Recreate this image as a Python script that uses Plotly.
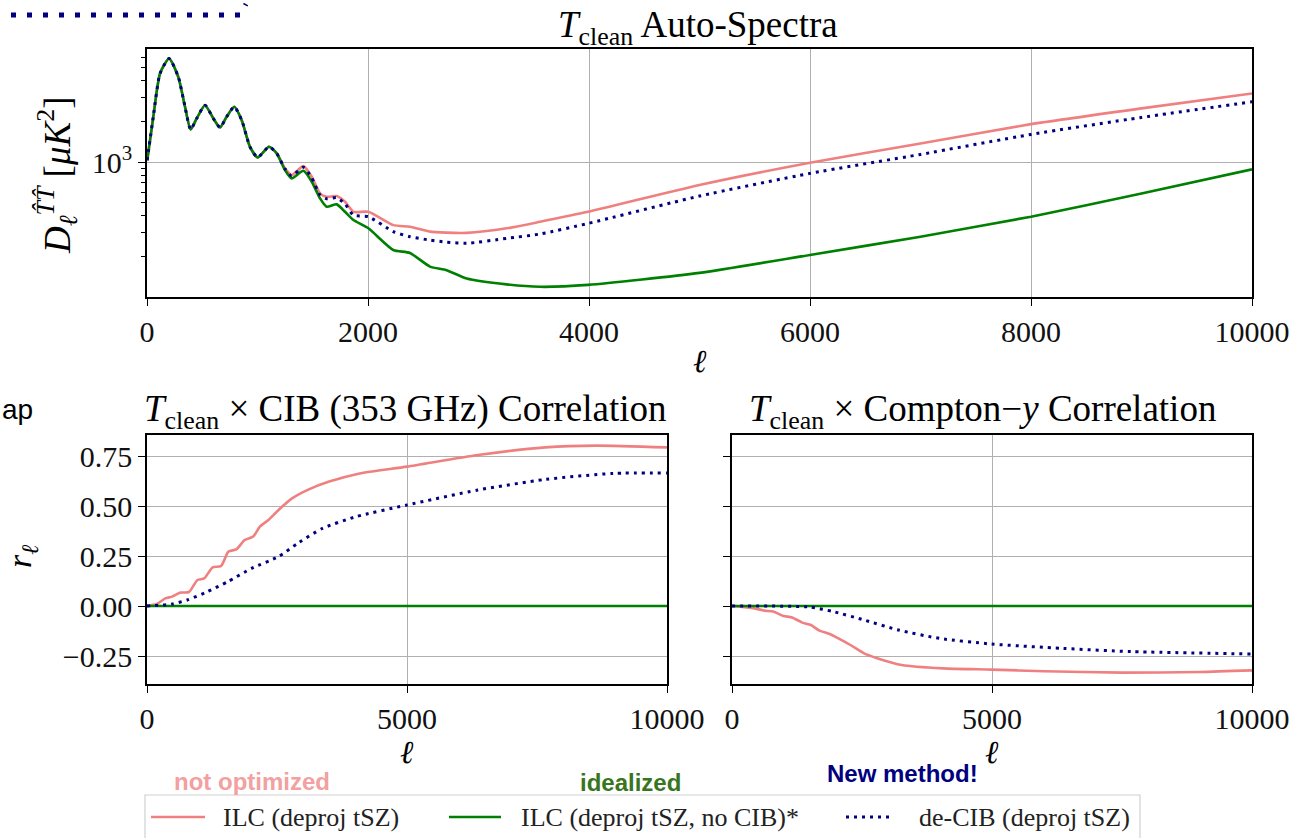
import plotly.graph_objects as go

W, H = 1293, 838

# ---- T_clean auto-spectra (top panel) ----
ell_top = [2, 57, 118, 200, 283, 344, 395, 450, 525, 600,
           661, 721, 790, 857, 932, 1001, 1104, 1174, 1249, 1309,
           1415, 1491, 1566, 1626, 1717, 1792, 1868, 2003, 2229, 2380,
           2561, 2712, 2893, 3255, 3557, 3991, 5000, 6000, 7000, 8000,
           9000, 10000]
dl_ilc = [1030, 2170, 4540, 5860, 4285, 2570, 1746, 2107, 2640, 2107,
          1807, 2168, 2570, 2046, 1298, 1083, 1298, 1160, 898, 801,
          934, 778, 586, 553, 560, 508, 428, 428, 341, 332,
          305, 300, 299, 323, 361, 428, 676, 988, 1375, 1911,
          2500, 3228]
dl_ilc_nocib = [1030, 2170, 4540, 5860, 4285, 2570, 1746, 2107, 2640, 2107,
                1807, 2168, 2570, 2046, 1298, 1083, 1298, 1160, 872, 757,
                862, 715, 538, 467, 486, 428, 372, 323, 223, 212,
                168, 158, 137, 124, 119, 123, 151, 205, 280, 394,
                586, 883]
dl_decib = [1030, 2170, 4540, 5860, 4285, 2570, 1746, 2107, 2640, 2107,
            1807, 2168, 2570, 2046, 1298, 1083, 1298, 1160, 890, 790,
            915, 765, 570, 535, 545, 490, 404, 394, 305, 280,
            264, 255, 250, 272, 293, 351, 560, 825, 1140, 1604,
            2143, 2797]

# ---- T_clean x CIB (353 GHz) correlation ----
ell_cib_ilc = [0, 190, 352, 483, 645, 808, 970, 1100, 1262, 1425,
               1567, 1717, 1879, 2042, 2171, 2334, 2529, 2789, 3113, 3504,
               4088, 5000, 6362, 7662, 8635, 10000]
r_cib_ilc = [0, 0.01, 0.038, 0.047, 0.067, 0.07, 0.13, 0.138, 0.193, 0.20,
             0.272, 0.283, 0.33, 0.347, 0.397, 0.43, 0.48, 0.538, 0.583, 0.622,
             0.663, 0.697, 0.755, 0.793, 0.802, 0.793]
ell_cib_decib = [0, 481, 775, 1165, 1555, 2010, 2529, 2919, 3373, 4023,
                 5000, 6362, 7662, 8962, 10000]
r_cib_decib = [0, 0.01, 0.03, 0.072, 0.122, 0.188, 0.247, 0.317, 0.388, 0.447,
               0.505, 0.58, 0.633, 0.663, 0.665]

# ---- T_clean x Compton-y correlation ----
ell_y_ilc = [0, 429, 627, 792, 990, 1154, 1352, 1517, 1683, 1881,
             2046, 2277, 2540, 2804, 3265, 4058, 5000, 6000, 7500, 9000,
             10000]
r_y_ilc = [0, -0.012, -0.023, -0.028, -0.05, -0.057, -0.083, -0.095, -0.123, -0.14,
           -0.162, -0.195, -0.237, -0.262, -0.295, -0.312, -0.318, -0.326, -0.333, -0.33,
           -0.322]
ell_y_decib = [0, 1485, 1946, 2539, 3200, 3992, 4981, 6365, 7686, 10000]
r_y_decib = [0, -0.005, -0.028, -0.07, -0.12, -0.162, -0.19, -0.212, -0.228, -0.24]

# the idealized case has no residual correlation
ell_flat = [0, 10000]
r_flat = [0, 0]

labels = ["ILC (deproj tSZ)", "ILC (deproj tSZ, no CIB)*", "de-CIB (deproj tSZ)"]
callouts = ["not optimized", "idealized", "New method!"]
C_ILC, C_NOCIB, C_DECIB = "#f08080", "#008000", "#000080"
C_CALLOUT = ["#f2a0a0", "#38761d", "#000080"]

top_ticks = [0, 2000, 4000, 6000, 8000, 10000]
bot_ticks = [0, 5000, 10000]
r_ticks = [-0.25, 0, 0.25, 0.5, 0.75]

SERIF = "Liberation Serif"
SANS = "Liberation Sans"


def px(x):
    return x / W


def py(y):
    return 1 - y / H


line_ilc = dict(color=C_ILC, width=2.6, shape="spline", smoothing=0.6)
line_nocib = dict(color=C_NOCIB, width=2.6, shape="spline", smoothing=0.6)
line_decib = dict(color=C_DECIB, width=3, dash="3px,5px", shape="spline", smoothing=0.6)
line_styles = [line_ilc, line_nocib, line_decib]

fig = go.Figure()
for ys, st, nm in zip([dl_ilc, dl_ilc_nocib, dl_decib], line_styles, labels):
    fig.add_trace(go.Scatter(x=ell_top, y=ys, mode="lines", line=st, name=nm,
                             xaxis="x", yaxis="y"))

for xs, ys, st, nm in zip([ell_cib_ilc, ell_flat, ell_cib_decib],
                          [r_cib_ilc, r_flat, r_cib_decib], line_styles, labels):
    fig.add_trace(go.Scatter(x=xs, y=ys, mode="lines", line=st, name=nm,
                             xaxis="x2", yaxis="y2"))

for xs, ys, st, nm in zip([ell_y_ilc, ell_flat, ell_y_decib],
                          [r_y_ilc, r_flat, r_y_decib], line_styles, labels):
    fig.add_trace(go.Scatter(x=xs, y=ys, mode="lines", line=st, name=nm,
                             xaxis="x3", yaxis="y3"))

axis_common = dict(showline=True, mirror=True, linecolor="black", linewidth=1.5,
                   ticks="outside", ticklen=7, tickwidth=1.2, tickcolor="black",
                   showgrid=True, gridcolor="#b0b0b0", gridwidth=1, zeroline=False,
                   tickfont=dict(family=SERIF, size=30, color="#111111"))

fig.update_layout(
    width=W, height=H,
    margin=dict(l=0, r=0, t=0, b=0, autoexpand=False),
    paper_bgcolor="white", plot_bgcolor="white",
    showlegend=False,
    xaxis=dict(domain=[px(147), px(1252)], anchor="y", range=[0, 10000],
               tickmode="array", tickvals=top_ticks, ticktext=[str(v) for v in top_ticks],
               **axis_common),
    yaxis=dict(domain=[py(297), py(48.5)], anchor="x", type="log", range=[2.0, 3.842],
               tickmode="array", tickvals=[1000], ticktext=["10<sup>3</sup>"],
               minor=dict(tickmode="array",
                          tickvals=[200, 300, 400, 500, 600, 700, 800, 900,
                                    2000, 3000, 4000, 5000, 6000, 7000],
                          ticks="outside", ticklen=4, tickwidth=1, tickcolor="black",
                          showgrid=False),
               **axis_common),
    xaxis2=dict(domain=[px(147), px(667)], anchor="y2", range=[0, 10000],
                tickmode="array", tickvals=bot_ticks, ticktext=[str(v) for v in bot_ticks],
                **axis_common),
    yaxis2=dict(domain=[py(684), py(435)], anchor="x2", range=[-0.39, 0.855],
                tickmode="array", tickvals=r_ticks,
                ticktext=[f"{v:.2f}".replace("-", "\u2212") for v in r_ticks], **axis_common),
    xaxis3=dict(domain=[px(732), px(1252)], anchor="y3", range=[0, 10000],
                tickmode="array", tickvals=bot_ticks, ticktext=[str(v) for v in bot_ticks],
                **axis_common),
    yaxis3=dict(domain=[py(684), py(435)], anchor="x3", matches="y2",
                tickmode="array", tickvals=r_ticks,
                showticklabels=False, **axis_common),
)


def label(text, x, y, size=28, angle=0, family=SERIF, color="black", xanchor="center"):
    fig.add_annotation(text=text, x=px(x), y=py(y), xref="paper", yref="paper",
                       showarrow=False, xanchor=xanchor, yanchor="middle", textangle=angle,
                       font=dict(family=family, size=size, color=color))


# panel titles
label("<i>T</i><sub>clean</sub> Auto-Spectra", 698, 27, size=37)
label("<i>T</i><sub>clean</sub> \u00d7 CIB (353 GHz) Correlation", 406, 411, size=37)
label("<i>T</i><sub>clean</sub> \u00d7 Compton\u2212<i>y</i> Correlation", 982, 411, size=37)

# axis labels
label("<i>\u2113</i>", 700, 361, size=32)
label("<i>\u2113</i>", 407, 752, size=32)
label("<i>\u2113</i>", 992, 752, size=32)
label("<i>D</i><sub><i>\u2113</i></sub><sup><i>T\u0302T\u0302</i></sup> [<i>\u03bcK</i><sup>2</sup>]",
      57, 176, size=37, angle=-90)
label("<i>r</i><sub><i>\u2113</i></sub>", 22, 557, size=34, angle=-90)

# legend box below the panels
fig.add_shape(type="rect", xref="paper", yref="paper",
              x0=px(145), x1=px(1140), y0=py(870), y1=py(795),
              line=dict(color="#d0d0d0", width=1.2), fillcolor="white", layer="below")
leg_line_x = [(151, 205), (449, 501), (846, 892)]
leg_text_x = [221, 519, 917]
callout_pos = [(172, 781), (578, 782), (825, 773)]
for i, st in enumerate(line_styles):
    x0, x1 = leg_line_x[i]
    fig.add_shape(type="line", xref="paper", yref="paper",
                  x0=px(x0), x1=px(x1), y0=py(817), y1=py(817),
                  line=dict(color=st["color"], width=st["width"], dash=st.get("dash", "solid")))
    label(labels[i], leg_text_x[i], 817, size=26, color="#222222", xanchor="left")
    cx, cy = callout_pos[i]
    label(f"<b>{callouts[i]}</b>", cx, cy, size=24, family=SANS, color=C_CALLOUT[i],
          xanchor="left")

label("ap", 0, 409, size=28, family=SANS, color="black", xanchor="left")

# dotted connector fragment at the upper-left corner
fig.add_shape(type="path", xref="paper", yref="paper",
              path=f"M {px(11)},{py(15)} L {px(240)},{py(15)} L {px(246)},{py(4)}",
              line=dict(color="#000080", width=5, dash="5px,11px"))

fig.write_html("out.html")
